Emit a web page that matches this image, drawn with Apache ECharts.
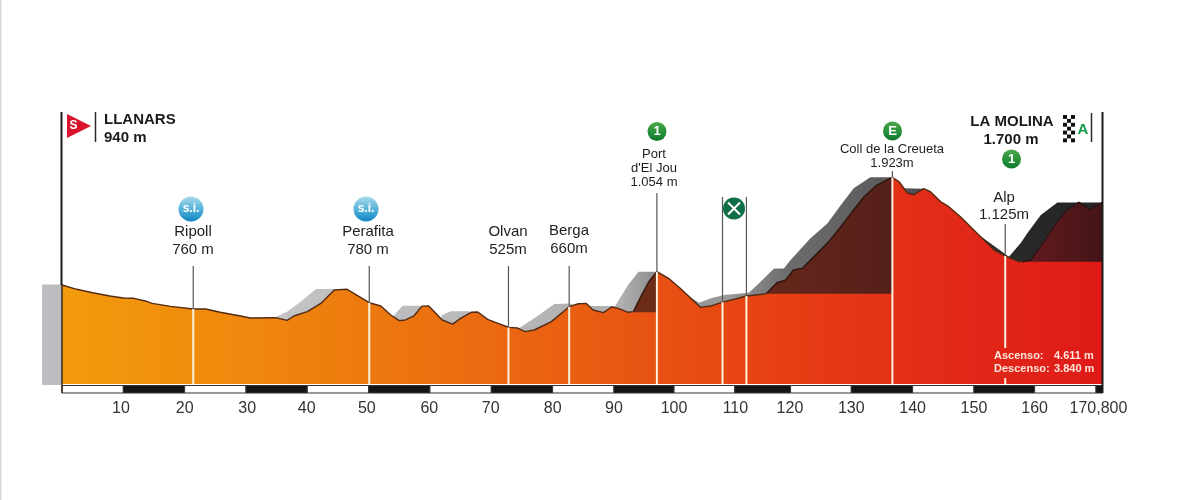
<!DOCTYPE html>
<html><head><meta charset="utf-8">
<script src="https://cdn.jsdelivr.net/npm/echarts@6/dist/echarts.min.js"></script>
<style>html,body{margin:0;padding:0;background:#fff}#c{width:1200px;height:500px}</style>
</head><body><div id="c"></div>
<script>
// Profile: [km along the drawn axis, metres]
const profile = [[0,940],[2.4,901],[5,870],[7.8,840],[10,822],[11.7,819],[13.6,795],[14.7,773],[17.7,746],[21.4,722],[23.4,722],[25.8,692],[29.1,658],[30.7,640],[34.8,643],[36.7,619],[37.8,658],[40,698],[42.2,773],[44.4,895],[46.5,901],[50.1,779],[52,749],[53.6,667],[55,616],[56,622],[57.4,660],[58.7,748],[59.8,749],[62,622],[63.7,585],[65,637],[66.7,692],[67.8,695],[69.4,628],[72.8,555],[74.3,549],[75.5,516],[77,531],[79.8,607],[82.7,743],[84.2,770],[85.5,773],[86.6,713],[88.3,689],[89.6,740],[90.7,728],[92.3,692],[93.2,698],[94.4,834],[95.7,970],[97,1061],[98.9,1001],[100.8,910],[104.1,737],[106,752],[107.7,785],[109.8,813],[111.6,840],[114.6,858],[115,870],[116.6,961],[118,985],[119.3,1076],[120.7,1091],[122.6,1198],[124.8,1319],[127,1470],[129.1,1622],[130.8,1743],[132.9,1849],[135.4,1919],[136.5,1879],[137.8,1779],[138.9,1761],[140.5,1816],[141.6,1788],[143.3,1697],[144.6,1652],[146.5,1561],[149.2,1410],[152,1258],[153.8,1204],[156,1152],[158,1167],[160.1,1334],[162.3,1516],[163.9,1622],[165.8,1691],[167.5,1628],[169.66,1688]];
const shadow = [[34.4,630],[34.8,650],[36.7,698],[38.9,788],[41.4,904],[44.4,904],[45.5,860],[53.4,620],[54.2,667],[55.5,752],[58.5,752],[59,700],[61.5,600],[62,667],[63.4,701],[66.4,701],[66.9,670],[74.3,540],[77,637],[80.3,767],[82.9,773],[84,740],[86.3,749],[90.2,749],[92.3,940],[94,1061],[97,1061],[98,980],[103.9,779],[105.8,819],[108,849],[112,870],[113.9,970],[116.1,1091],[117.7,1091],[118.8,1167],[122,1364],[124.8,1500],[127,1667],[129.1,1819],[131.8,1919],[135.4,1919],[137.3,1819],[140.5,1816],[142,1700],[154.4,1198],[156.3,1319],[157.4,1410],[159.6,1576],[162.3,1691],[169.66,1691]];
const climbPort = [[93.2,698],[94.4,834],[95.7,970],[97,1061]];
const climbCreueta = [[115,870],[116.6,961],[118,985],[119.3,1076],[120.7,1091],[122.6,1198],[124.8,1319],[127,1470],[129.1,1622],[130.8,1743],[132.9,1849],[135.4,1919]];
const climbFinal = [[156.6,1152],[158,1167],[160.1,1334],[162.3,1516],[163.9,1622],[165.8,1691],[167.5,1628],[169.66,1688]];
const climbBases = [692, 861, 1152];
// Towns and passes
const placeKm = [21.4,50.1,72.8,82.7,97,107.7,111.6,135.4,153.8];
const placeProfileM = [722,779,555,743,1061,785,840,1919,1204];
const placeText = [["Ripoll","760 m"],["Perafita","780 m"],["Olvan","525m"],["Berga","660m"],["Port","d'El Jou","1.054 m"],[],[],["Coll de la Creueta","1.923m"],["Alp","1.125m"]];
// Axis
const stripKm = [10,20,30,40,50,60,70,80,90,99.8,109.7,118.8,128.7,138.7,148.7,158.6,168.6];
const axisLabelKm = [9.6,20,30.2,39.9,49.7,59.9,69.9,80,90,99.8,109.8,118.7,128.7,138.7,148.7,158.6,169];
const axisTickLabels = ["10","20","30","40","50","60","70","80","90","100","110","120","130","140","150","160","170,800"];
const axisEndKm = 169.66;
const startText = ["LLANARS","940 m"];
const finishText = ["LA MOLINA","1.700 m"];
const totalsText = [["Ascenso:","4.611 m"],["Descenso:","3.840 m"]];

// Layout of annotations, per place (pixels)
const layout = [
 {stem:266,tx:193,ty:[232,250],fs:15,badge:{x:191,y:209,r:12.5,kind:'si'}},
 {stem:266,tx:368,ty:[232,250],fs:15,badge:{x:366,y:209,r:12.5,kind:'si'}},
 {stem:266,tx:508,ty:[232,250],fs:15},
 {stem:266,tx:569,ty:[231,249],fs:15},
 {stem:193,tx:654,ty:[154,168,182],fs:13,badge:{x:657,y:131.5,r:9.5,kind:'1'}},
 {stem:197,tx:0,ty:[],fs:13},
 {stem:197,tx:0,ty:[],fs:13},
 {stem:171,tx:892,ty:[149,163],fs:13,badge:{x:892.5,y:131,r:9.5,kind:'E'}},
 {stem:224,tx:1004,ty:[198,215],fs:15,gap:[348,378]}
];
const BASE=384, SANS='"Liberation Sans",Arial,sans-serif';
function badge(b){
  const blue=b.kind==='si';
  return [{type:'circle',shape:{cx:b.x,cy:b.y,r:b.r},style:{fill:new echarts.graphic.LinearGradient(0,0,0,1,blue?[{offset:0,color:'#a9d9ea'},{offset:.55,color:'#4fb0d8'},{offset:1,color:'#0f84c4'}]:[{offset:0,color:'#4aa84a'},{offset:1,color:'#0c7a2e'}])}},
  {type:'text',style:{text:blue?'s.i.':b.kind,x:b.x,y:b.y,align:'center',verticalAlign:'middle',fill:'#fff',font:'bold '+(blue?12:13)+'px '+SANS}}];
}
function renderPlace(params,api){
  const i=params.dataIndex, L=layout[i];
  const p=api.coord([api.value(0),api.value(1)]);
  const kids=[];
  const white={stroke:'#fff2e0',lineWidth:2};
  if(L.gap){
    kids.push({type:'line',shape:{x1:p[0],y1:p[1],x2:p[0],y2:L.gap[0]},style:white});
    kids.push({type:'line',shape:{x1:p[0],y1:L.gap[1],x2:p[0],y2:BASE},style:white});
  } else kids.push({type:'line',shape:{x1:p[0],y1:p[1],x2:p[0],y2:BASE},style:white});
  kids.push({type:'line',shape:{x1:p[0],y1:L.stem,x2:p[0],y2:p[1]},style:{stroke:'#555',lineWidth:1.2}});
  (placeText[i]||[]).forEach((t,k)=>kids.push({type:'text',style:{text:t,x:L.tx,y:L.ty[k],align:'center',verticalAlign:'middle',fill:'#1e1e1e',font:L.fs+'px '+SANS}}));
  if(L.badge) badge(L.badge).forEach(o=>kids.push(o));
  return {type:'group',children:kids};
}
function renderStrip(params,api){
  const i=params.dataIndex;
  const x0=api.coord([api.value(0),0])[0], x1=api.coord([api.value(1),0])[0];
  return {type:'rect',shape:{x:x0,y:385.5,width:x1-x0,height:7.5},style:{fill:i%2?'#151515':'#fff',stroke:'#333',lineWidth:1}};
}
const stripEdges=[0].concat(stripKm,[axisEndKm]);
const stripData=stripEdges.slice(0,-1).map((v,i)=>[v,stripEdges[i+1]]);
function H(stops){return {type:'linear',x:0,y:0,x2:1,y2:0,colorStops:stops.map(s=>({offset:s[0],color:s[1]}))};}
function lineSeries(data,z,fill,origin,stroke,w){
  return {type:'line',data,z,symbol:'none',smooth:false,animation:false,silent:true,
    lineStyle:{color:stroke,width:w,join:'round'},areaStyle:{color:fill,opacity:1,origin:origin},emphasis:{disabled:true}};
}
// Decorative frame and icons
const graphics=[
 {type:'rect',shape:{x:0,y:0,width:1.5,height:500},style:{fill:'#d8d8d8'},z:0},
 {type:'rect',shape:{x:42,y:284.5,width:20,height:100.5},style:{fill:'#bdbcc1'},z:0},
 {type:'line',shape:{x1:61.5,y1:112,x2:61.5,y2:285},style:{stroke:'#1c1c1c',lineWidth:2},z:10},
 {type:'line',shape:{x1:62,y1:285,x2:62,y2:393},style:{stroke:'#3a2a1a',lineWidth:1.5},z:10},
 {type:'line',shape:{x1:1102.5,y1:112,x2:1102.5,y2:393},style:{stroke:'#1c1c1c',lineWidth:2},z:10},
 {type:'polygon',shape:{points:[[67,114],[91,126],[67,138]]},style:{fill:'#d8142c'},z:10},
 {type:'text',style:{text:'S',x:73.5,y:126,align:'center',verticalAlign:'middle',fill:'#fff',font:'bold 12px '+SANS},z:11},
 {type:'line',shape:{x1:95.5,y1:112,x2:95.5,y2:142},style:{stroke:'#2a2a2a',lineWidth:1.5},z:10},
 {type:'text',style:{text:startText[0],x:104,y:120,verticalAlign:'middle',fill:'#1a1a1a',font:'bold 15px '+SANS},z:10},
 {type:'text',style:{text:startText[1],x:104,y:137.5,verticalAlign:'middle',fill:'#1a1a1a',font:'bold 15px '+SANS},z:10},
 {type:'text',style:{text:finishText[0],x:1012,y:122,align:'center',verticalAlign:'middle',fill:'#1a1a1a',font:'bold 15px '+SANS},z:10},
 {type:'text',style:{text:finishText[1],x:1011,y:140,align:'center',verticalAlign:'middle',fill:'#1a1a1a',font:'bold 15px '+SANS},z:10},
 {type:'text',style:{text:'A',x:1083,y:130,align:'center',verticalAlign:'middle',fill:'#0f9a4a',font:'bold 15px '+SANS},z:10},
 {type:'line',shape:{x1:1091.5,y1:113,x2:1091.5,y2:142},style:{stroke:'#2a2a2a',lineWidth:1.5},z:10},
 {type:'text',style:{text:totalsText[0][0],x:994,y:356,verticalAlign:'middle',fill:'#ffe4dc',font:'bold 11px '+SANS},z:10},
 {type:'text',style:{text:totalsText[0][1],x:1054,y:356,verticalAlign:'middle',fill:'#ffe4dc',font:'bold 11px '+SANS},z:10},
 {type:'text',style:{text:totalsText[1][0],x:994,y:369,verticalAlign:'middle',fill:'#ffe4dc',font:'bold 11px '+SANS},z:10},
 {type:'text',style:{text:totalsText[1][1],x:1054,y:369,verticalAlign:'middle',fill:'#ffe4dc',font:'bold 11px '+SANS},z:10},
 // cutlery sign
 {type:'circle',shape:{cx:734,cy:208.5,r:11},style:{fill:'#0e6f46'},z:10},
 {type:'line',shape:{x1:728,y1:214.5,x2:740,y2:202.5},style:{stroke:'#fff',lineWidth:2},z:11},
 {type:'line',shape:{x1:728,y1:202.5,x2:740,y2:214.5},style:{stroke:'#fff',lineWidth:2},z:11}
];
badge({x:1011.5,y:159,r:9.5,kind:'1'}).forEach(o=>{o.z=10;graphics.push(o);});
// chequered flag
for(let r=0;r<7;r++){ for(let c=0;c<3;c++){ if((r+c)%2===0){
  graphics.push({type:'rect',shape:{x:1063+c*4,y:115+r*3.9,width:4,height:3.9},style:{fill:'#111'},z:10});
}}}
const chart=echarts.init(document.getElementById('c'));
chart.setOption({
  animation:false,backgroundColor:'#fff',
  grid:{left:62,right:97.5,top:112,bottom:116},
  xAxis:{type:'value',min:0,max:axisEndKm,splitLine:{show:false},axisLine:{show:false},axisTick:{show:false},
    axisLabel:{customValues:axisLabelKm,margin:17,color:'#333',fontSize:16,fontFamily:SANS,hideOverlap:false,showMinLabel:true,showMaxLabel:true,
      formatter:v=>axisTickLabels[axisLabelKm.indexOf(v)]||''}},
  yAxis:{type:'value',min:40,max:2513,show:false,splitLine:{show:false}},
  graphic:{elements:graphics},
  series:[
    lineSeries(shadow,1,H([[0,'#c4c4c7'],[0.42,'#b0b0b2'],[0.46,'#8f8f91'],[0.55,'#9a9a9b'],[0.62,'#6c6c6e'],[0.75,'#5a5a5c'],[0.88,'#2a2a2c'],[1,'#232325']]),'start','transparent',0),
    lineSeries(profile,2,H([[0,'#f39b0c'],[0.25,'#ee7f0e'],[0.5,'#e95d12'],[0.7,'#e63e14'],[0.85,'#e22a18'],[1,'#df1a18']]),'start','#532a12',1.4),
    lineSeries(climbPort,3,'#6d2c18',climbBases[0],'#3a1c10',1.4),
    lineSeries(climbCreueta,3,H([[0,'#66261a'],[1,'#55201a']]),climbBases[1],'#2f1710',1.4),
    lineSeries(climbFinal,3,H([[0,'#661a1c'],[1,'#431517']]),climbBases[2],'#26141a',1.4),
    {type:'custom',z:4,silent:true,data:placeKm.map((k,i)=>[k,placeProfileM[i]]),renderItem:renderPlace,clip:false,encode:{x:0,y:1},animation:false},
    {type:'custom',z:5,silent:true,data:stripData,renderItem:renderStrip,clip:false,encode:{x:[0,1]},animation:false}
  ]
});
</script></body></html>
